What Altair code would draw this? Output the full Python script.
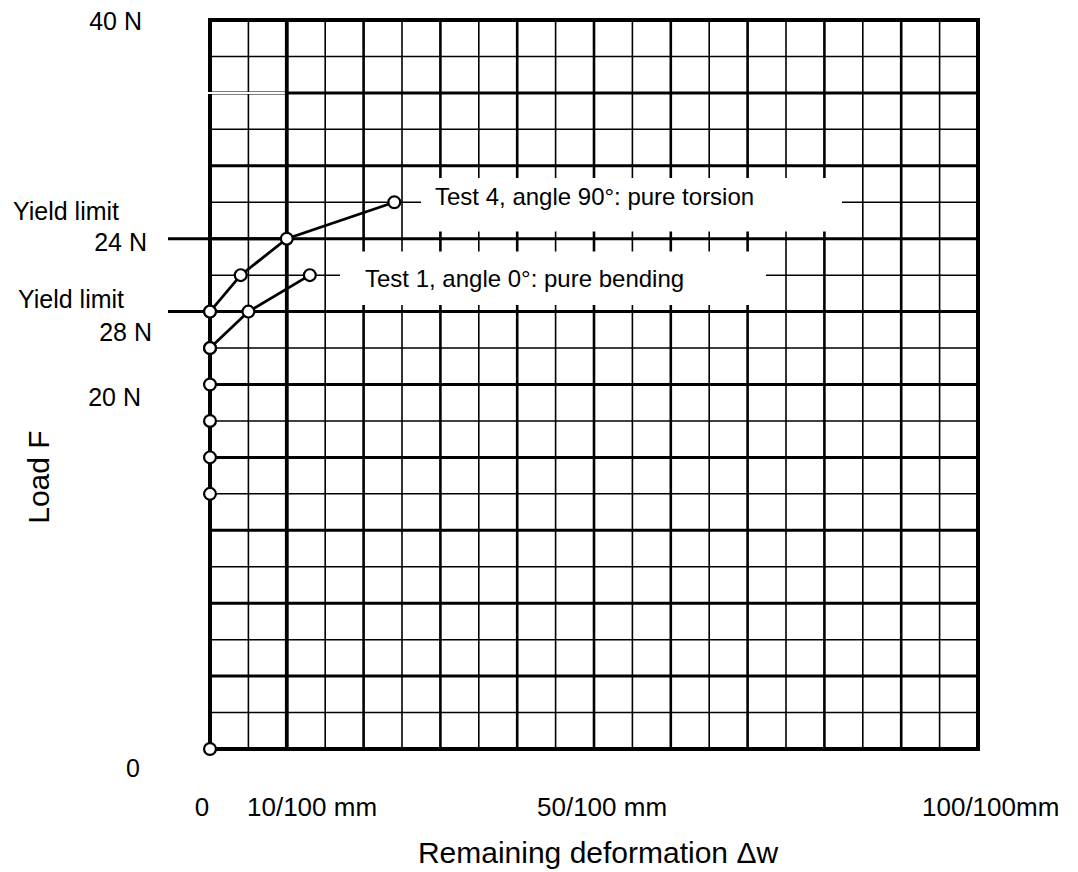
import altair as alt
import pandas as pd

# ---- data -------------------------------------------------------------
X_MAX = 100          # remaining deformation, 1/100 mm
Y_MAX = 40           # load, N
x_grid = list(range(0, 101, 5))
y_grid = list(range(0, 41, 2))

test4_x = [0, 4, 10, 24]
test4_y = [24, 26, 28, 30]
test1_x = [0, 5, 13]
test1_y = [22, 24, 26]
start_y = [0, 14, 16, 18, 20, 22, 24]   # points measured on the load axis

yield_levels = [28, 24]
yield_from = -5.47

# annotation boxes (data units): x0, x1, y0, y1
box_x0 = [27.47, 16.93]
box_x1 = [82.29, 72.40]
box_y0 = [28.40, 24.36]
box_y1 = [31.33, 27.30]

# labels (data units)
right_text = ["40 N", "24 N", "28 N", "20 N"]
right_x = [-8.85, -8.2, -7.55, -8.98]
right_y = [39.9, 27.74, 22.83, 19.26]

left_text = ["Yield limit", "Yield limit", "10/100 mm", "50/100 mm", "100/100mm",
             "Test 4, angle 90°: pure torsion", "Test 1, angle 0°: pure bending"]
left_x = [-25.65, -25.0, 4.82, 42.58, 92.71, 29.3, 20.18]
left_y = [29.49, 24.66, -3.21, -3.21, -3.21, 30.26, 25.76]
left_size = [25, 25, 26, 26, 26, 24, 24]

center_text = ["0", "0", "Remaining deformation \u0394w", "Load F"]
center_x = [-10.03, -1.04, 50.52, -22.14]
center_y = [-1.12, -3.21, -5.75, 14.92]
center_size = [25, 26, 30, 30]
center_angle = [0, 0, 0, 270]

FONT = "Liberation Sans"

# ---- tables -----------------------------------------------------------
rows = []
for v in x_grid:
    if v in (0, X_MAX):
        w = 4
    elif v == 10:
        w = 3.8
    elif v % 10 == 0:
        w = 2.6
    else:
        w = 1.6
    rows.append(dict(x=v, x2=v, y=0, y2=Y_MAX, w=w))
for v in y_grid:
    if v in (0, Y_MAX):
        w = 4
    elif v % 4 == 0:
        w = 3
    else:
        w = 1.5
    rows.append(dict(x=0, x2=X_MAX, y=v, y2=v, w=w))
grid = pd.DataFrame(rows)

boxes = pd.DataFrame(dict(x=box_x0, x2=box_x1, y=box_y0, y2=box_y1))
yields = pd.DataFrame(dict(x=[yield_from] * 2, x2=[10] * 2, y=yield_levels, y2=yield_levels))
gap = pd.DataFrame(dict(x=[-0.6], x2=[9.75], y=[36], y2=[36]))

curves = pd.DataFrame(dict(
    x=test4_x + test1_x,
    y=test4_y + test1_y,
    s=["Test 4"] * len(test4_x) + ["Test 1"] * len(test1_x),
))
points = pd.DataFrame(dict(
    x=[0] * len(start_y) + test4_x + test1_x,
    y=start_y + test4_y + test1_y,
))

rt = pd.DataFrame(dict(t=right_text, x=right_x, y=right_y))
lt = pd.DataFrame(dict(t=left_text, x=left_x, y=left_y, s=left_size))
ct = pd.DataFrame(dict(t=center_text, x=center_x, y=center_y, s=center_size, a=center_angle))

xs = alt.Scale(domain=[0, X_MAX], nice=False, zero=False)
ys = alt.Scale(domain=[0, Y_MAX], nice=False, zero=False)
X = lambda f="x": alt.X(f"{f}:Q", scale=xs, axis=None)
Y = lambda f="y": alt.Y(f"{f}:Q", scale=ys, axis=None)

grid_l = alt.Chart(grid).mark_rule(color="black", strokeCap="square").encode(
    x=X(), x2="x2:Q", y=Y(), y2="y2:Q", strokeWidth=alt.StrokeWidth("w:Q", scale=None)
)
box_l = alt.Chart(boxes).mark_rect(fill="white", stroke=None).encode(
    x=X(), x2="x2:Q", y=Y(), y2="y2:Q"
)
gap_l = alt.Chart(gap).mark_rule(color="white", strokeWidth=2).encode(
    x=X(), x2="x2:Q", y=Y(), y2="y2:Q"
)
yield_l = alt.Chart(yields).mark_rule(color="black", strokeWidth=3).encode(
    x=X(), x2="x2:Q", y=Y(), y2="y2:Q"
)
curve_l = alt.Chart(curves).mark_line(color="black", strokeWidth=2.8).encode(
    x=X(), y=Y(), detail="s:N", order="x:Q"
)
pt_l = alt.Chart(points).mark_point(
    shape="circle", filled=True, fill="white", stroke="black", strokeWidth=2.2,
    size=140, opacity=1
).encode(x=X(), y=Y())

rt_l = alt.Chart(rt).mark_text(align="right", baseline="middle", font=FONT,
                               fontSize=25, color="black").encode(
    x=X(), y=Y(), text="t:N")
lt_l = alt.Chart(lt).mark_text(align="left", baseline="middle", font=FONT,
                               color="black").encode(
    x=X(), y=Y(), text="t:N", size=alt.Size("s:Q", scale=None, legend=None))
ct_l = alt.Chart(ct).mark_text(align="center", baseline="middle", font=FONT,
                               color="black").encode(
    x=X(), y=Y(), text="t:N", size=alt.Size("s:Q", scale=None, legend=None),
    angle=alt.Angle("a:Q", scale=None))

chart = alt.layer(grid_l, box_l, gap_l, yield_l, curve_l, pt_l, rt_l, lt_l, ct_l).properties(
    width=768, height=729,
    padding={"left": 202, "top": 12, "right": 92, "bottom": 123},
    autosize=alt.AutoSizeParams(type="none"),
    background="white",
).configure_view(stroke=None)

chart.save("out.html", embed_options={"renderer": "svg", "actions": False})
